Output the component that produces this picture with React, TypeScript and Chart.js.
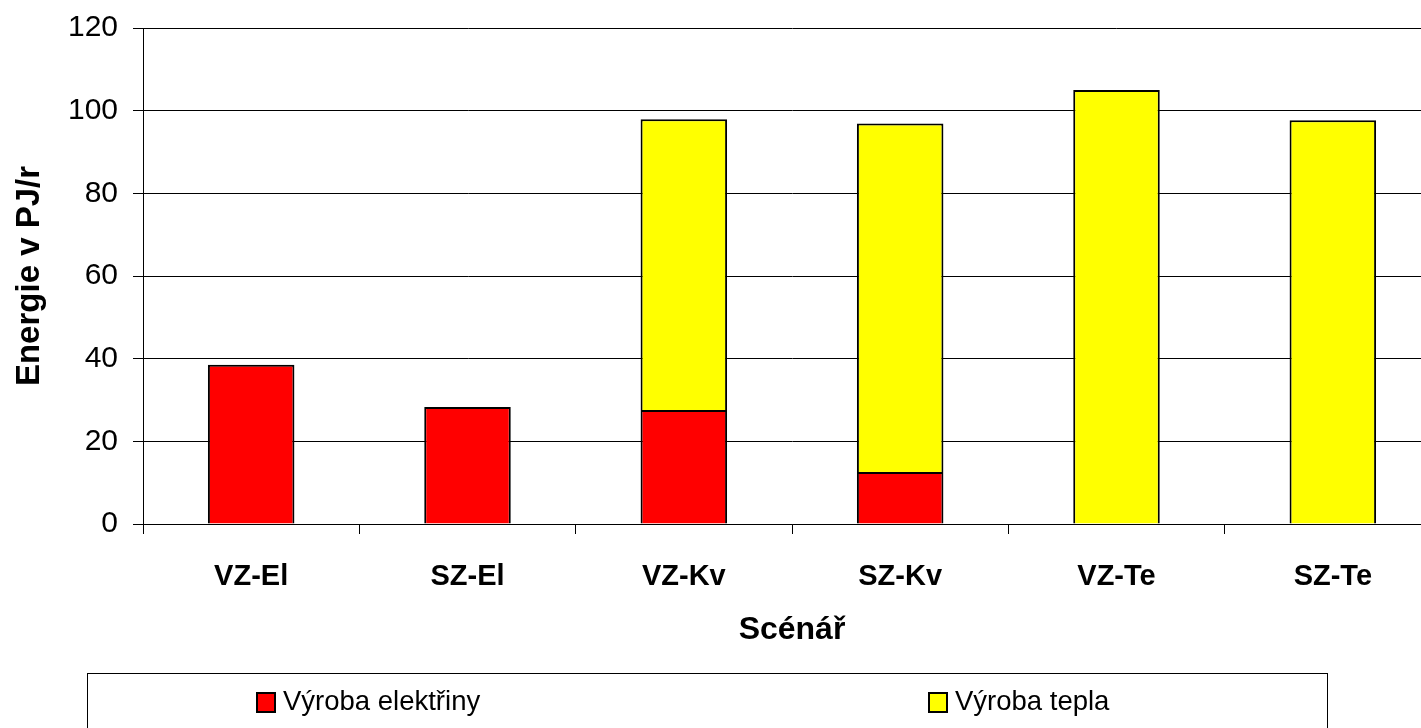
import React, { useEffect, useRef } from "react";
import { Chart, registerables } from "chart.js";

Chart.register(...registerables);

const categories = ["VZ-El", "SZ-El", "VZ-Kv", "SZ-Kv", "VZ-Te", "SZ-Te"];
const electricity: (number | null)[] = [38.5, 28.3, 27.6, 12.6, null, null];
const heat: (number | null)[] = [null, null, 70.3, 84.3, 105.0, 97.7];
const yTicks = [0, 20, 40, 60, 80, 100, 120];
const seriesNames = ["Výroba elektřiny", "Výroba tepla"];
const seriesColors = ["#FF0000", "#FFFF00"];
const xTitle = "Scénář";
const yTitle = "Energie v PJ/r";

const FONT = '"Liberation Sans", Arial, sans-serif';

const boxLegend = {
  id: "boxLegend",
  afterDraw(chart: any) {
    const ctx = chart.ctx as CanvasRenderingContext2D;
    ctx.save();
    ctx.strokeStyle = "#000";
    ctx.lineWidth = 1;
    ctx.strokeRect(87.5, 673.5, 1240, 100);
    const xs = [257, 929];
    chart.data.datasets.forEach((ds: any, i: number) => {
      const x = xs[i];
      ctx.fillStyle = ds.backgroundColor;
      ctx.fillRect(x, 693, 18, 19);
      ctx.lineWidth = 2;
      ctx.strokeStyle = "#000";
      ctx.strokeRect(x, 693, 18, 19);
      ctx.fillStyle = "#000";
      ctx.font = `27.5px ${FONT}`;
      ctx.textBaseline = "alphabetic";
      ctx.textAlign = "left";
      ctx.fillText(ds.label, x + 26, 710);
    });
    ctx.restore();
  },
};

export default function App() {
  const ref = useRef<HTMLCanvasElement | null>(null);

  useEffect(() => {
    document.body.style.margin = "0";
    const canvas = ref.current!;
    const chart = new Chart(canvas, {
      type: "bar",
      data: {
        labels: categories,
        datasets: [
          {
            label: seriesNames[0],
            data: electricity,
            backgroundColor: seriesColors[0],
            borderColor: "#000",
            borderWidth: 2,
            barPercentage: 0.4,
            categoryPercentage: 1,
          },
          {
            label: seriesNames[1],
            data: heat,
            backgroundColor: seriesColors[1],
            borderColor: "#000",
            borderWidth: 2,
            barPercentage: 0.4,
            categoryPercentage: 1,
          },
        ],
      },
      options: {
        responsive: false,
        animation: false,
        devicePixelRatio: 1,
        layout: { padding: { left: 0, top: 28, right: 9, bottom: 0 } },
        plugins: {
          legend: { display: false },
          tooltip: { enabled: false },
        },
        scales: {
          x: {
            stacked: true,
            offset: true,
            afterFit: (s: any) => {
              s.height = 204;
              s.paddingLeft = 0;
              s.paddingRight = 0;
            },
            grid: {
              display: true,
              drawOnChartArea: false,
              drawTicks: true,
              tickLength: 10,
              offset: true,
              color: "#000",
              lineWidth: 1,
            },
            border: { display: true, color: "#000", width: 1 },
            ticks: {
              color: "#000",
              padding: 26,
              font: { family: FONT, size: 29, weight: "bold" },
              maxRotation: 0,
            },
            title: {
              display: true,
              text: xTitle,
              color: "#000",
              font: { family: FONT, size: 32, weight: "bold" },
              padding: { top: 0, bottom: 79 },
            },
          },
          y: {
            stacked: true,
            min: 0,
            max: 120,
            afterFit: (s: any) => {
              s.width = 143;
              s.paddingTop = 0;
              s.paddingBottom = 0;
            },
            afterBuildTicks: (s: any) => {
              s.ticks = yTicks.map((v) => ({ value: v }));
            },
            grid: {
              color: "#000",
              lineWidth: 1,
              tickLength: 10,
              drawTicks: true,
            },
            border: { display: true, color: "#000", width: 1 },
            ticks: {
              color: "#000",
              padding: 15,
              font: { family: FONT, size: 30 },
            },
            title: {
              display: true,
              text: yTitle,
              color: "#000",
              font: { family: FONT, size: 33, weight: "bold" },
              padding: { top: 10, bottom: 0 },
            },
          },
        },
      },
      plugins: [boxLegend],
    });
    return () => chart.destroy();
  }, []);

  return (
    <div
      style={{
        position: "fixed",
        left: 0,
        top: 0,
        width: 1421,
        height: 728,
        overflow: "hidden",
        background: "#fff",
      }}
    >
      <canvas ref={ref} width={1450} height={728} style={{ width: 1450, height: 728, display: "block" }} />
    </div>
  );
}
